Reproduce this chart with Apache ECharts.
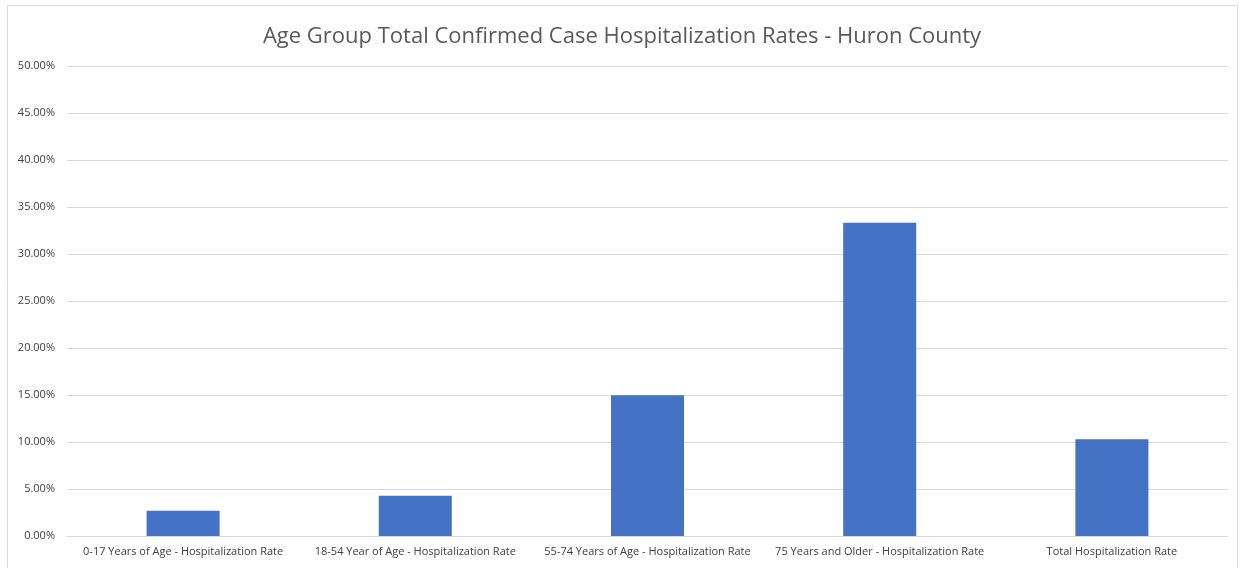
<!DOCTYPE html>
<html>
<head>
<meta charset="utf-8">
<script src="https://cdn.jsdelivr.net/npm/echarts@6/dist/echarts.min.js"></script>
<style>
  html, body { margin: 0; padding: 0; background: #fff; }
  #chart { width: 1244px; height: 568px; }
</style>
</head>
<body>
<div id="chart"></div>
<script>
// categories and values (percent)
const categories = [
  '0-17 Years of Age - Hospitalization Rate',
  '18-54 Year of Age - Hospitalization Rate',
  '55-74 Years of Age - Hospitalization Rate',
  '75 Years and Older - Hospitalization Rate',
  'Total Hospitalization Rate'
];
const rates = [2.69, 4.29, 14.97, 33.33, 10.29];
const titleText = 'Age Group Total Confirmed Case Hospitalization Rates - Huron County';

const myChart = echarts.init(document.getElementById('chart'));
const option = {
  animation: false,
  title: {
    text: titleText,
    left: 'center',
    top: 21,
    textStyle: {
      color: '#595959',
      fontFamily: 'Open Sans',
      fontWeight: 'normal',
      fontSize: 22
    }
  },
  graphic: [{
    type: 'rect',
    shape: { x: 7.5, y: 5.5, width: 1230, height: 570 },
    style: { fill: 'none', stroke: '#d9d9d9', lineWidth: 1 },
    silent: true
  }],
  grid: { left: 67, right: 16, top: 66, bottom: 32 },
  xAxis: {
    type: 'category',
    data: categories,
    axisTick: { show: false },
    axisLine: { lineStyle: { color: '#d9d9d9', width: 1 } },
    axisLabel: {
      color: '#404040',
      fontFamily: 'Open Sans',
      fontSize: 11,
      interval: 0,
      margin: 10
    }
  },
  yAxis: {
    type: 'value',
    min: 0,
    max: 50,
    interval: 5,
    axisLine: { show: false },
    axisTick: { show: false },
    splitLine: { lineStyle: { color: '#d9d9d9', width: 1 } },
    axisLabel: {
      color: '#404040',
      fontFamily: 'Open Sans',
      fontSize: 11,
      margin: 12,
      formatter: function (v) { return v.toFixed(2) + '%'; }
    }
  },
  series: [{
    type: 'bar',
    data: rates,
    barWidth: 73,
    itemStyle: { color: '#4472c4' }
  }]
};
myChart.setOption(option);
</script>
</body>
</html>
